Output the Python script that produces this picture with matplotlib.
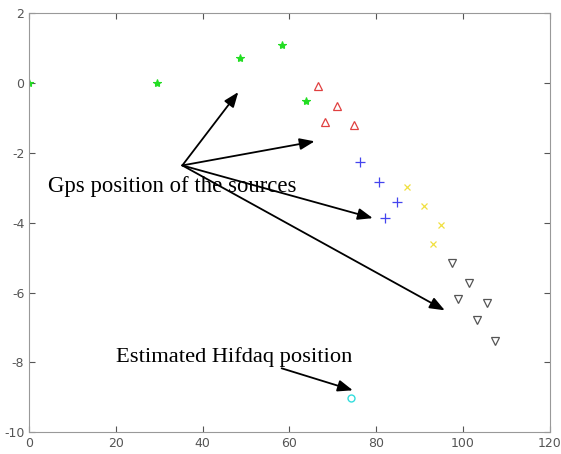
import numpy as np
import matplotlib
matplotlib.use('Agg')
import matplotlib.pyplot as plt

plt.rcParams['axes.unicode_minus'] = False

# source positions
green_x = [0, 29.5, 48.7, 58.2, 63.7]
green_y = [0, 0.0, 0.71, 1.08, -0.52]
red_x = [66.5, 70.9, 68.1, 74.8]
red_y = [-0.09, -0.66, -1.12, -1.21]
blue_x = [76.2, 80.6, 84.7, 82.0]
blue_y = [-2.27, -2.84, -3.42, -3.87]
yellow_x = [87.0, 91.0, 94.9, 93.0]
yellow_y = [-2.99, -3.53, -4.07, -4.62]
black_x = [97.4, 101.4, 98.8, 105.5, 103.2, 107.4]
black_y = [-5.16, -5.74, -6.19, -6.31, -6.8, -7.4]
hifdaq_x = [74.1]
hifdaq_y = [-9.03]

# annotation arrows
arrow_start = (35.3, -2.36)
arrow_ends = [(48.2, -0.26), (65.8, -1.67), (79.2, -3.87), (95.8, -6.51)]
est_start = (58.2, -8.17)
est_end = (74.6, -8.8)

fig = plt.figure(figsize=(5.61, 4.54), dpi=100)
ax = fig.add_axes([0.052, 0.048, 0.928, 0.923])

ax.plot(green_x, green_y, '*', color='#22dd22', ms=6, mew=0.8, ls='none')
ax.plot(red_x, red_y, '^', mfc='none', mec='#e04040', ms=6, mew=0.9, ls='none')
ax.plot(blue_x, blue_y, '+', color='#4444ee', ms=7, mew=0.9, ls='none')
ax.plot(yellow_x, yellow_y, 'x', color='#f0e040', ms=5, mew=0.9, ls='none')
ax.plot(black_x, black_y, 'v', mfc='none', mec='#555555', ms=6, mew=0.9, ls='none')
ax.plot(hifdaq_x, hifdaq_y, 'o', mfc='none', mec='#33dddd', ms=5, mew=1.0, ls='none')

for end in arrow_ends:
    ax.annotate('', xy=end, xytext=arrow_start,
                arrowprops=dict(arrowstyle='-|>,head_length=0.9,head_width=0.35',
                                color='black', lw=1.3, shrinkA=0, shrinkB=0))
ax.annotate('', xy=est_end, xytext=est_start,
            arrowprops=dict(arrowstyle='-|>,head_length=0.9,head_width=0.35',
                            color='black', lw=1.3, shrinkA=0, shrinkB=0))

ax.text(4.4, -2.95, 'Gps position of the sources', family='Liberation Serif',
        fontsize=16.4, va='center', ha='left')
ax.text(20.1, -7.86, 'Estimated Hifdaq position', family='Liberation Serif',
        fontsize=16.2, va='center', ha='left')

ax.set_xlim(0, 120)
ax.set_ylim(-10, 2)
ax.set_xticks(np.arange(0, 121, 20))
ax.set_yticks(np.arange(-10, 3, 2))
ax.tick_params(direction='in', top=True, right=True, labelsize=9,
               colors='#555555', length=4)
for s in ax.spines.values():
    s.set_color('#999999')

fig.savefig('out.png', dpi=100)
